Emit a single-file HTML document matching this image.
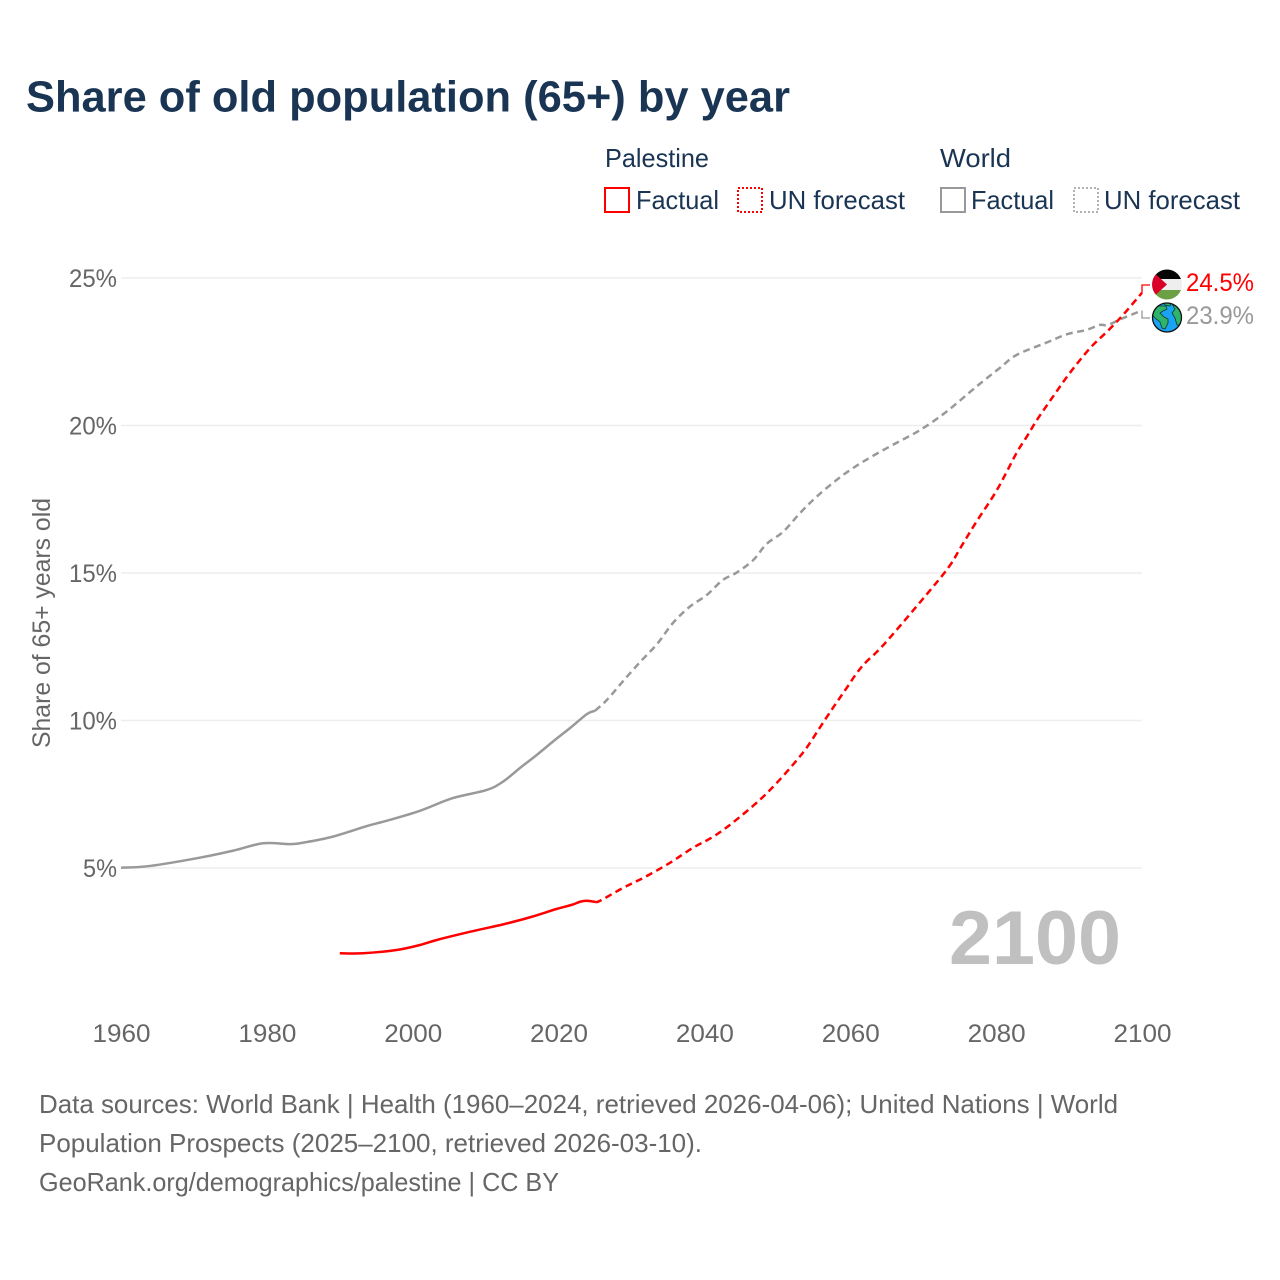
<!DOCTYPE html>
<html lang="en">
<head>
<meta charset="utf-8">
<title>Share of old population (65+) by year</title>
<style>
html,body{margin:0;padding:0;background:#fff;}
svg{display:block;font-family:"Liberation Sans",sans-serif;}
</style>
</head>
<body>
<svg id="chart" width="1280" height="1280" viewBox="0 0 1280 1280" xmlns="http://www.w3.org/2000/svg">
<defs>
<clipPath id="flag-clip"><circle cx="1167" cy="284.5" r="15"/></clipPath>
<clipPath id="earth-clip"><circle cx="1167" cy="317.5" r="14.5"/></clipPath>
</defs>
<text x="26" y="111.5" font-size="44" font-weight="700" fill="#1a3553" textLength="764" lengthAdjust="spacingAndGlyphs">Share of old population (65+) by year</text>

<g font-size="26" fill="#1a3553">
<text x="605" y="167" textLength="104" lengthAdjust="spacingAndGlyphs">Palestine</text>
<text x="940" y="167" textLength="71" lengthAdjust="spacingAndGlyphs">World</text>
<rect x="605" y="188" width="24" height="24" fill="none" stroke="#ff0000" stroke-width="2"/>
<text x="636" y="209" textLength="83" lengthAdjust="spacingAndGlyphs">Factual</text>
<rect x="738" y="188" width="24" height="24" fill="none" stroke="#ff0000" stroke-width="2" stroke-dasharray="2 2"/>
<text x="769" y="209" textLength="136" lengthAdjust="spacingAndGlyphs">UN forecast</text>
<rect x="941" y="188" width="24" height="24" fill="none" stroke="#999999" stroke-width="2"/>
<text x="971" y="209" textLength="83" lengthAdjust="spacingAndGlyphs">Factual</text>
<rect x="1074" y="188" width="24" height="24" fill="none" stroke="#999999" stroke-width="1.5" stroke-dasharray="2 2"/>
<text x="1104" y="209" textLength="136" lengthAdjust="spacingAndGlyphs">UN forecast</text>
</g>

<g id="grid"></g>
<g id="y-ticks"></g>
<g id="x-ticks"></g>
<text transform="translate(50,623) rotate(-90)" text-anchor="middle" font-size="25" fill="#666666" textLength="250" lengthAdjust="spacingAndGlyphs">Share of 65+ years old</text>
<text x="949" y="964" font-size="76" font-weight="700" fill="#c0c0c0" textLength="172" lengthAdjust="spacingAndGlyphs">2100</text>
<g id="series"></g>

<g clip-path="url(#flag-clip)">
<rect x="1152" y="269" width="30" height="10" fill="#050505"/>
<rect x="1152" y="279" width="30" height="11" fill="#eeeeee"/>
<rect x="1152" y="290" width="30" height="11" fill="#6ca044"/>
<path d="M1150 269 L1167 284.5 L1150 300 Z" fill="#d80027"/>
</g>
<g>
<circle cx="1167" cy="317.5" r="14.5" fill="#1aa3f5"/>
<g clip-path="url(#earth-clip)" fill="#2eb56b" stroke="#0c3a26" stroke-width="0.8">
<path d="M1157 306 L1166 306 L1167 309 L1163 311 L1160 313 L1164 317 L1168 319 L1168 323 L1165 329 L1162 328 L1160 322 L1155 318 L1151 313 Z"/>
<path d="M1172 304 L1180 308 L1184 316 L1181 325 L1177 325 L1175 318 L1172 313 L1175 309 Z"/>
<path d="M1163 302 L1171 302 L1170 306 L1165 305 Z"/>
</g>
<circle cx="1167" cy="317.5" r="14.5" fill="none" stroke="#111111" stroke-width="1.3"/>
</g>

<g font-size="26" fill="#666666">
<text x="39" y="1113" textLength="1079" lengthAdjust="spacingAndGlyphs">Data sources: World Bank | Health (1960–2024, retrieved 2026-04-06); United Nations | World</text>
<text x="39" y="1152" textLength="663" lengthAdjust="spacingAndGlyphs">Population Prospects (2025–2100, retrieved 2026-03-10).</text>
<text x="39" y="1191" textLength="520" lengthAdjust="spacingAndGlyphs">GeoRank.org/demographics/palestine | CC BY</text>
</g>
</svg>
<script>
const yTickValues = [5, 10, 15, 20, 25];
const xTickValues = [1960, 1980, 2000, 2020, 2040, 2060, 2080, 2100];

const worldFactualYears = [1960, 1964, 1970.8, 1975.4, 1979.5, 1983.2, 1985, 1989, 1993.7, 1996.4, 2001, 2005.5, 2010.1, 2012.4, 2014.7, 2017, 2019.2, 2021.6, 2023.9, 2025];
const worldFactualValues = [5.01, 5.07, 5.35, 5.59, 5.84, 5.81, 5.86, 6.06, 6.42, 6.6, 6.94, 7.37, 7.64, 7.93, 8.39, 8.83, 9.28, 9.75, 10.22, 10.33];
const worldForecastYears = [2025, 2026.6, 2028.8, 2031.2, 2033.5, 2035.7, 2038, 2040.3, 2042.5, 2044.4, 2046.7, 2048.5, 2050.8, 2053.1, 2055.4, 2058.1, 2060.4, 2063.1, 2066.4, 2069.6, 2073.2, 2077.3, 2080.5, 2082.8, 2086.9, 2089.8, 2092.4, 2094.2, 2095.3, 2097.4, 2100];
const worldForecastValues = [10.33, 10.69, 11.32, 11.99, 12.59, 13.31, 13.86, 14.25, 14.76, 15.01, 15.44, 15.98, 16.4, 17.03, 17.59, 18.15, 18.56, 18.97, 19.42, 19.85, 20.47, 21.32, 21.95, 22.39, 22.81, 23.1, 23.24, 23.41, 23.41, 23.64, 23.9];

const palestineFactualYears = [1990, 1993.2, 1997.8, 2001, 2003.3, 2007.9, 2012.4, 2016.1, 2019.7, 2021.8, 2023, 2023.9, 2025];
const palestineFactualValues = [2.11, 2.11, 2.22, 2.39, 2.56, 2.84, 3.09, 3.33, 3.61, 3.75, 3.86, 3.89, 3.85];
const palestineForecastYears = [2025, 2025.7, 2028.8, 2031.8, 2035.3, 2038.4, 2041.2, 2043.9, 2047.6, 2049.9, 2052.1, 2054, 2055.8, 2057.6, 2059.3, 2060.9, 2062.2, 2064.8, 2071.2, 2073.7, 2075.1, 2077.3, 2080.1, 2082.8, 2084.2, 2085.6, 2087.8, 2090.1, 2092.9, 2095.2, 2097.4, 2100];
const palestineForecastValues = [3.85, 3.89, 4.32, 4.69, 5.18, 5.68, 6.06, 6.54, 7.31, 7.88, 8.49, 9.07, 9.75, 10.42, 11.03, 11.61, 11.99, 12.63, 14.49, 15.27, 15.85, 16.74, 17.81, 19.07, 19.62, 20.19, 20.98, 21.78, 22.63, 23.18, 23.75, 24.5];

const endLabelPalestine = 24.5;
const endLabelWorld = 23.9;

const SVGNS = 'http://www.w3.org/2000/svg';
function xScale(year) { return 121 + (year - 1960) * (1142 - 121) / 140; }
function yScale(value) { return 868 - (value - 5) * 29.5; }
function make(tag, attrs, parent, content) {
  const el = document.createElementNS(SVGNS, tag);
  Object.keys(attrs).forEach(function (k) { el.setAttribute(k, attrs[k]); });
  if (content !== undefined) { el.textContent = content; }
  parent.appendChild(el);
  return el;
}
const gridGroup = document.getElementById('grid');
const yTickGroup = document.getElementById('y-ticks');
const xTickGroup = document.getElementById('x-ticks');
const seriesGroup = document.getElementById('series');

yTickValues.forEach(function (v) {
  const line = make('line', { x1: 121, x2: 1142, y1: yScale(v), y2: yScale(v), stroke: '#eeeeee', 'stroke-width': 1.5 }, gridGroup);
  
  
  const label = make('text', { x: 117, y: yScale(v) + 9, 'text-anchor': 'end', 'font-size': 25, fill: '#666666', textLength: v < 10 ? 34 : 48, lengthAdjust: 'spacingAndGlyphs' }, yTickGroup, v + '%');
  
  
});
xTickValues.forEach(function (year) {
  const label = make('text', { x: xScale(year) + 0.5, y: 1042, 'text-anchor': 'middle', 'font-size': 25, fill: '#666666', textLength: 58, lengthAdjust: 'spacingAndGlyphs' }, xTickGroup, String(year));
  
  
});
function pathFrom(years, values) {
  const pts = years.map(function (y, i) { return [xScale(y), yScale(values[i])]; });
  let d = 'M' + pts[0][0].toFixed(2) + ' ' + pts[0][1].toFixed(2);
  for (let i = 0; i < pts.length - 1; i++) {
    const p0 = pts[Math.max(i - 1, 0)];
    const p1 = pts[i];
    const p2 = pts[i + 1];
    const p3 = pts[Math.min(i + 2, pts.length - 1)];
    const c1x = p1[0] + (p2[0] - p0[0]) / 6;
    const c1y = p1[1] + (p2[1] - p0[1]) / 6;
    const c2x = p2[0] - (p3[0] - p1[0]) / 6;
    const c2y = p2[1] - (p3[1] - p1[1]) / 6;
    d += ' C' + c1x.toFixed(2) + ' ' + c1y.toFixed(2) + ' ' + c2x.toFixed(2) + ' ' + c2y.toFixed(2) + ' ' + p2[0].toFixed(2) + ' ' + p2[1].toFixed(2);
  }
  return d;
}
function drawLine(years, values, color, dash) {
  const attrs = { d: pathFrom(years, values), fill: 'none', stroke: color, 'stroke-width': 2.5, 'stroke-linejoin': 'round' };
  if (dash) { attrs['stroke-dasharray'] = '7 4.5'; }
  return make('path', attrs, seriesGroup);
}
const worldFactualLine = drawLine(worldFactualYears, worldFactualValues, '#999999', false);


const worldForecastLine = drawLine(worldForecastYears, worldForecastValues, '#999999', true);


const palestineFactualLine = drawLine(palestineFactualYears, palestineFactualValues, '#ff0000', false);


const palestineForecastLine = drawLine(palestineForecastYears, palestineForecastValues, '#ff0000', true);



const endX = xScale(2100);
const palestineConnector = make('path', { d: 'M' + endX + ' ' + yScale(endLabelPalestine) + ' L' + endX + ' 285 L1150 285', fill: 'none', stroke: '#ff0000', 'stroke-width': 1.3 }, seriesGroup);


const worldConnector = make('path', { d: 'M' + endX + ' ' + yScale(endLabelWorld) + ' L' + endX + ' 318 L1150 318', fill: 'none', stroke: '#999999', 'stroke-width': 1.3 }, seriesGroup);


const palestineEndLabel = make('text', { x: 1186, y: 291, 'font-size': 25, fill: '#ff0000', textLength: 68, lengthAdjust: 'spacingAndGlyphs' }, seriesGroup, endLabelPalestine.toFixed(1) + '%');


const worldEndLabel = make('text', { x: 1186, y: 324, 'font-size': 25, fill: '#999999', textLength: 68, lengthAdjust: 'spacingAndGlyphs' }, seriesGroup, endLabelWorld.toFixed(1) + '%');


</script>
</body>
</html>
